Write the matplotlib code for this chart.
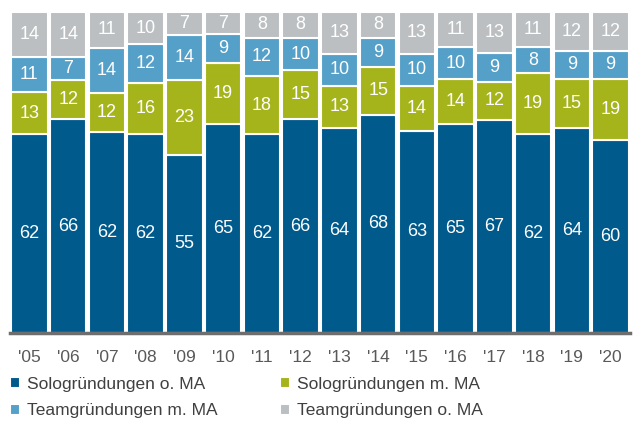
import matplotlib.pyplot as plt
import numpy as np

plt.rcParams['font.family'] = ['Liberation Sans', 'DejaVu Sans']

years = ["'05", "'06", "'07", "'08", "'09", "'10", "'11", "'12",
         "'13", "'14", "'15", "'16", "'17", "'18", "'19", "'20"]
solo_o = [62, 66, 62, 62, 55, 65, 62, 66, 64, 68, 63, 65, 67, 62, 64, 60]
solo_m = [13, 12, 12, 16, 23, 19, 18, 15, 13, 15, 14, 14, 12, 19, 15, 19]
team_m = [11, 7, 14, 12, 14, 9, 12, 10, 10, 9, 10, 10, 9, 8, 9, 9]
team_o = [14, 14, 11, 10, 7, 7, 8, 8, 13, 8, 13, 11, 13, 11, 12, 12]

labels = ['Sologründungen o. MA', 'Sologründungen m. MA',
          'Teamgründungen m. MA', 'Teamgründungen o. MA']
colors = ['#005a8c', '#a5b41b', '#55a0c8', '#bcbfc2']

series = np.array([solo_o, solo_m, team_m, team_o], dtype=float)
totals = series.sum(axis=0)
shares = series / totals * 100  # all bars reach the same top

fig = plt.figure(figsize=(6.37, 4.23), dpi=100)
ax = fig.add_axes([10/637, 1 - 333/423, 620/637, 321/423])

x = np.arange(len(years))
bottom = np.zeros(len(years))
handles = []
for vals, raw, col, lab in zip(shares, series, colors, labels):
    b = ax.bar(x, vals, 0.94, bottom=bottom, color=col, edgecolor='white',
               linewidth=1.5, label=lab)
    handles.append(b)
    for xi, v, bt, r in zip(x, vals, bottom, raw):
        ax.text(xi, bt + v / 2, f'{int(r)}', ha='center', va='center',
                color='white', fontsize=13)
    bottom += vals

ax.set_xlim(-0.5, len(years) - 0.5)
ax.set_ylim(0, 100)
ax.set_xticks(x)
ax.set_xticklabels(years, fontsize=12.5, color='#595959')
ax.tick_params(axis='x', length=0, pad=12)
ax.set_yticks([])
for s in ['top', 'right', 'left']:
    ax.spines[s].set_visible(False)
ax.spines['bottom'].set_color('#6e6e6e')
ax.spines['bottom'].set_linewidth(2.5)

# legend is filled column-wise, so order gives rows: solo o/m, team m/o
order = [0, 2, 1, 3]
fig.legend([handles[i] for i in order], [labels[i] for i in order],
           ncol=2, loc='upper left',
           bbox_to_anchor=(0.015, 1 - 377/423), frameon=False,
           fontsize=12.5, labelcolor='#404040', handlelength=0.6,
           handleheight=0.6, handletextpad=0.4, columnspacing=3.6,
           labelspacing=0.65, borderaxespad=0, borderpad=0)

fig.savefig('out.png', dpi=100)
